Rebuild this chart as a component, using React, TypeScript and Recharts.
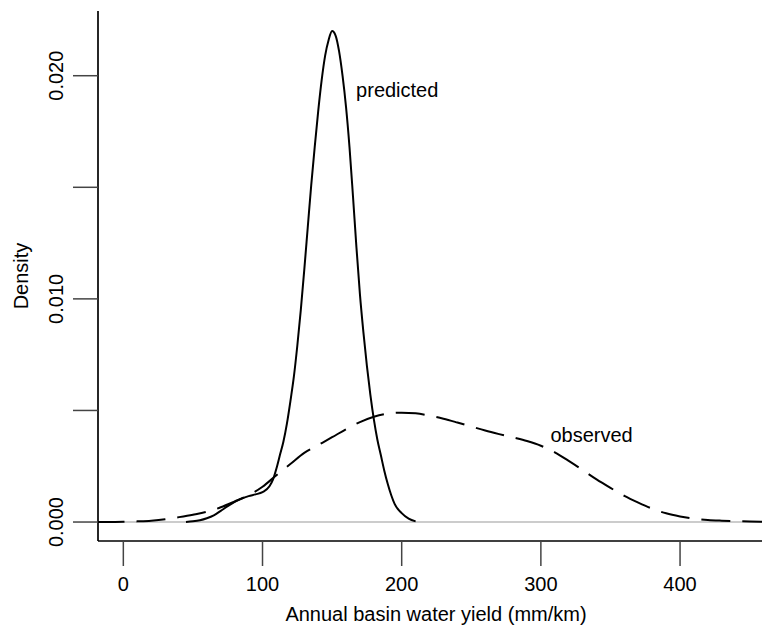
import { LineChart, Line, XAxis, YAxis, ReferenceLine, ReferenceDot, Label } from "recharts";

// predicted density (solid)
const predictedX = [45, 50, 55, 60, 65, 70, 75, 80, 85, 90, 95, 100, 105, 107.5, 110, 112.5, 115, 117.5, 120, 122.5, 125, 127.5, 130, 132.5, 135, 137.5, 140, 142.5, 145, 147.5, 150, 152.5, 155, 157.5, 160, 162.5, 165, 167.5, 170, 172.5, 175, 177.5, 180, 182.5, 185, 187.5, 190, 192.5, 195, 200, 205, 210];
const predictedY = [0, 0.00003, 0.00008, 0.00017, 0.0003, 0.0005, 0.00071, 0.0009, 0.00105, 0.00116, 0.00124, 0.00134, 0.0016, 0.0019, 0.0024, 0.003, 0.0036, 0.0044, 0.0054, 0.0065, 0.0079, 0.0095, 0.0113, 0.0132, 0.0151, 0.0168, 0.0184, 0.0198, 0.0209, 0.0216, 0.022, 0.0218, 0.0211, 0.02, 0.0186, 0.0168, 0.0146, 0.0123, 0.0102, 0.0085, 0.007, 0.0057, 0.0046, 0.0037, 0.003, 0.0023, 0.0017, 0.0012, 0.0008, 0.0004, 0.00015, 0.00003];

// observed density (dashed)
const observedX = [-20, -10, 0, 10, 20, 30, 40, 50, 60, 70, 80, 90, 100, 110, 120, 130, 140, 150, 160, 170, 180, 190, 200, 210, 220, 230, 240, 250, 260, 270, 280, 290, 300, 310, 320, 330, 340, 350, 360, 370, 380, 390, 400, 410, 420, 430, 440, 450, 460, 470];
const observedY = [0, 0, 0.00001, 0.00003, 0.00006, 0.00012, 0.00022, 0.00033, 0.00046, 0.00066, 0.00092, 0.0012, 0.00158, 0.0021, 0.0026, 0.0031, 0.00345, 0.0038, 0.00416, 0.00448, 0.00472, 0.00486, 0.0049, 0.00487, 0.00477, 0.00463, 0.00446, 0.00428, 0.0041, 0.00394, 0.00379, 0.00363, 0.00342, 0.00312, 0.00274, 0.00233, 0.00191, 0.00153, 0.00117, 0.00087, 0.0006, 0.00039, 0.00025, 0.00015, 0.00009, 0.00006, 0.00004, 0.00002, 0.00001, 0];

const xTicks = [0, 100, 200, 300, 400];
const yTicks = [0, 0.005, 0.01, 0.015, 0.02];

const predictedLabel = { x: 196.8, y: 0.01906, text: "predicted" };
const observedLabel = { x: 336.4, y: 0.00359, text: "observed" };

const predicted = predictedX.map((x, i) => ({ x, y: predictedY[i] }));
const observed = observedX.map((x, i) => ({ x, y: observedY[i] }));

const FONT = '"Liberation Sans", Arial, Helvetica, sans-serif';
const FS = 20;

function XTick(props: any) {
  const { x, y, payload } = props;
  return (
    <text x={x} y={y + 25} textAnchor="middle" fontFamily={FONT} fontSize={FS} fill="#000">
      {payload.value}
    </text>
  );
}

function YTick(props: any) {
  const { x, y, payload } = props;
  const v = payload.value;
  if (Math.abs(Math.round(v * 100) - v * 100) > 1e-6) return <g />;
  const bx = x - 10;
  return (
    <text x={bx} y={y} transform={`rotate(-90, ${bx}, ${y})`} textAnchor="middle" fontFamily={FONT} fontSize={FS} fill="#000">
      {v.toFixed(3)}
    </text>
  );
}

function textShape(text: string) {
  return (props: any) => (
    <text x={props.cx} y={props.cy} textAnchor="middle" fontFamily={FONT} fontSize={FS} fill="#000">
      {text}
    </text>
  );
}

export default function App() {
  return (
    <div style={{ position: "absolute", left: 0, top: 0, width: 762, height: 625, overflow: "hidden", background: "#fff" }}>
      <LineChart width={800} height={625} margin={{ top: 11, right: 26, bottom: 0, left: 0 }}>
        <XAxis
          type="number"
          dataKey="x"
          domain={[-18.2, 467.5]}
          allowDataOverflow
          ticks={xTicks}
          height={84}
          tickSize={25}
          tickMargin={0}
          tick={<XTick />}
          tickLine={{ stroke: "#444", strokeWidth: 1.5 }}
          axisLine={{ stroke: "#000", strokeWidth: 1.7 }}
        >
          <Label
            content={(p: any) => (
              <text x={p.viewBox.x + p.viewBox.width / 2} y={621} textAnchor="middle" fontFamily={FONT} fontSize={FS} fill="#000">
                Annual basin water yield (mm/km)
              </text>
            )}
          />
        </XAxis>
        <XAxis
          xAxisId="top"
          orientation="top"
          type="number"
          domain={[-18.2, 467.5]}
          height={0}
          tick={false}
          tickLine={false}
          axisLine={{ stroke: "#000", strokeWidth: 1.7 }}
        />
        <YAxis
          type="number"
          domain={[-0.00085, 0.0229]}
          allowDataOverflow
          ticks={yTicks}
          width={98}
          tickSize={25}
          tickMargin={0}
          tick={<YTick />}
          tickLine={{ stroke: "#444", strokeWidth: 1.5 }}
          axisLine={{ stroke: "#000", strokeWidth: 1.7 }}
        >
          <Label
            content={(p: any) => {
              const cy = p.viewBox.y + p.viewBox.height / 2;
              return (
                <text x={28} y={cy} transform={`rotate(-90, 28, ${cy})`} textAnchor="middle" fontFamily={FONT} fontSize={FS} fill="#000">
                  Density
                </text>
              );
            }}
          />
        </YAxis>
        <ReferenceLine y={0} stroke="#cccccc" strokeWidth={2} />
        <Line
          data={observed}
          dataKey="y"
          type="monotone"
          stroke="#000"
          strokeWidth={2}
          strokeDasharray="29 12"
          dot={false}
          activeDot={false}
          isAnimationActive={false}
        />
        <Line
          data={predicted}
          dataKey="y"
          type="monotone"
          stroke="#000"
          strokeWidth={2}
          dot={false}
          activeDot={false}
          isAnimationActive={false}
        />
        <ReferenceDot x={predictedLabel.x} y={predictedLabel.y} r={0} shape={textShape(predictedLabel.text)} />
        <ReferenceDot x={observedLabel.x} y={observedLabel.y} r={0} shape={textShape(observedLabel.text)} />
      </LineChart>
    </div>
  );
}
